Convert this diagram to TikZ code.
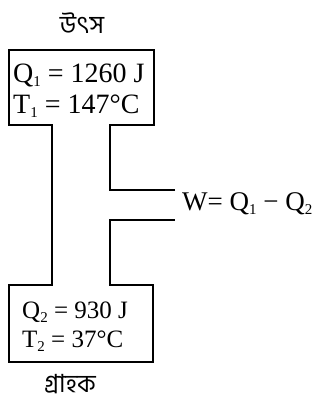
\documentclass[tikz,border=0pt]{standalone}
\usepackage{fontspec}
\setmainfont{Liberation Serif}
\newfontfamily\bnfont[Script=Bengali]{Hind Siliguri}
\newcommand{\sbx}[1]{\raisebox{-0.35ex}{\fontsize{15}{15}\selectfont #1}}
\begin{document}
\begin{tikzpicture}[x=1pt,y=-1pt,
  wall/.style={draw=black, line width=1.6pt, line join=miter},
  val/.style={align=left, inner sep=0pt, anchor=base west},
  big/.style={val, font=\fontsize{28}{30}\selectfont},
  mid/.style={val, font=\fontsize{25}{30}\selectfont},
  wlab/.style={val, font=\fontsize{27}{30}\selectfont},
  lbl/.style={font=\bnfont\fontsize{25}{28}\selectfont, inner sep=0pt}]
\useasboundingbox (0,0) rectangle (324,405);
% outline coordinates
\coordinate (wa) at (175,190);
\coordinate (wb) at (175,220);
\draw[wall] (wa) -- (110,190) -- (110,125) -- (154,125) -- (154,50) -- (9,50) -- (9,125) -- (52,125)
  -- (52,285) -- (9,285) -- (9,362) -- (153,362) -- (153,285) -- (110,285) -- (110,220) -- (wb);
% texts
\node[lbl] (src) at (82,23) {উৎস};
\node[lbl] (snk) at (70,384) {গ্রাহক};
\node[big] (q1) at (13,82) {Q\sbx{1} = 1260 J};
\node[big] (t1) at (13,113) {T\sbx{1} = 147°C};
\node[mid] (q2) at (22,318) {Q\sbx{2} = 930 J};
\node[mid] (t2) at (22,347) {T\sbx{2} = 37°C};
\node[wlab] (w) at (182,210) {W= Q\sbx{1} − Q\sbx{2}};
\end{tikzpicture}
\end{document}
